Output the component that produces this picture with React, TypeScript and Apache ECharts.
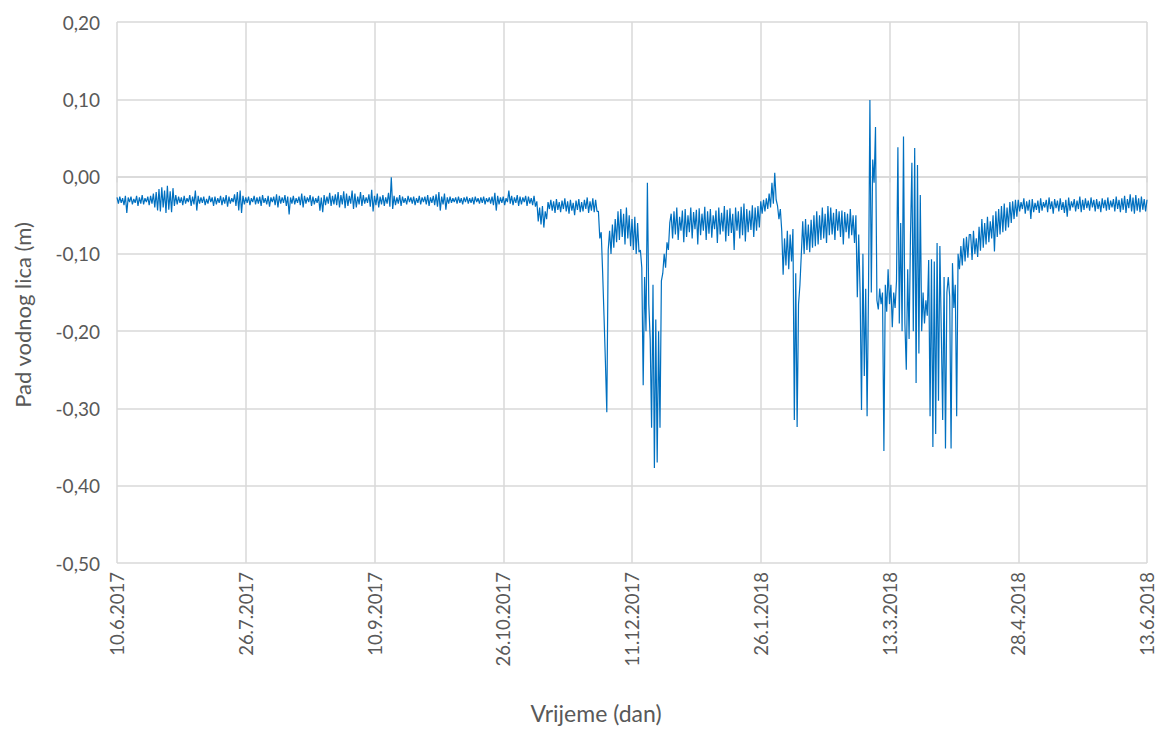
import React, { useEffect, useRef } from "react";
import * as echarts from "echarts";

// Water-level drop readings (mm), two readings per day (step 0.5 day), day 0 = 10.6.2017
const segA_Jun_Jul = [
  -27, -35, -26, -34, -28, -37, -25, -47, -27, -33,
  -26, -36, -29, -34, -25, -38, -27, -35, -24, -36,
  -28, -33, -26, -37, -25, -35, -22, -40, -20, -44,
  -16, -45, -14, -40, -18, -47, -12, -43, -19, -46,
  -15, -38, -24, -36, -26, -34, -27, -37, -25, -35,
  -28, -33, -24, -38, -26, -36, -18, -44, -25, -35,
  -27, -34, -26, -37, -29, -35, -25, -33, -27, -38,
  -26, -36, -28, -34, -25, -37, -27, -35, -24, -39,
  -26, -35, -28, -33, -23, -38, -20, -44, -18, -47,
  -25, -36, -27, -34, -26, -37, -28, -33, -25, -36,
];
const segB_Jul_Sep = [
  -27, -35, -26, -38, -24, -34, -28, -36, -25, -39,
  -27, -33, -26, -37, -23, -40, -25, -35, -27, -34,
  -24, -38, -26, -49, -27, -35, -25, -36, -28, -34,
  -26, -37, -22, -40, -25, -35, -27, -33, -24, -38,
  -26, -36, -28, -34, -25, -44, -27, -46, -24, -37,
  -26, -35, -21, -38, -25, -36, -23, -37, -20, -40,
  -24, -36, -19, -41, -22, -38, -25, -35, -18, -42,
  -22, -40, -26, -36, -20, -38, -24, -35, -27, -34,
  -23, -39, -17, -45, -25, -37, -22, -40, -26, -36,
  -24, -38, -27, -35, -21, -39, -1, -42, -25, -37,
];
const segC_Sep_Nov = [
  -27, -35, -24, -38, -26, -34, -28, -36, -25, -33,
  -27, -35, -26, -37, -28, -34, -25, -36, -27, -33,
  -26, -36, -24, -38, -27, -34, -25, -37, -23, -39,
  -20, -44, -26, -36, -22, -43, -27, -35, -26, -34,
  -28, -33, -27, -35, -26, -34, -28, -36, -27, -33,
  -26, -35, -28, -34, -27, -36, -26, -33, -28, -35,
  -27, -34, -26, -36, -28, -33, -27, -35, -26, -37,
  -21, -44, -25, -36, -27, -34, -26, -37, -28, -33,
  -18, -35, -25, -37, -27, -34, -24, -38, -26, -36,
  -27, -33, -25, -38, -26, -35, -28, -37, -25, -39,
];
const segD_Nov = [
  -32, -58, -40, -62, -38, -66, -45, -55, -33, -42,
  -30, -44, -32, -47, -29, -43, -33, -46, -31, -42,
  -28, -45, -32, -48, -30, -44, -34, -50, -31, -43,
  -29, -46, -33, -45, -30, -42, -27, -47, -32, -44,
  -28, -46, -30, -45,
];
const segE_Nov_Dec = [
  -45, -80, -72, -123, -180, -240, -305, -95, -70, -100,
  -62, -92, -55, -85, -45, -82, -42, -78, -48, -88,
  -40, -80, -50, -90, -55, -95, -52, -100, -60, -98,
  -95, -118, -270, -130, -200, -8, -165, -210, -325, -140,
  -377, -185, -370, -200, -325, -135, -125, -100, -118, -85,
  -95, -60,
];
const segF_Dec_Jan = [
  -48, -80, -45, -75, -40, -82, -52, -70, -44, -85,
  -42, -78, -50, -72, -40, -80, -46, -68, -43, -88,
  -41, -76, -48, -70, -39, -82, -45, -74, -42, -79,
  -50, -68, -44, -86, -40, -75, -47, -71, -38, -84,
  -43, -77, -41, -73, -48, -95, -40, -70, -45, -80,
  -39, -76, -35, -84, -42, -72, -44, -69, -37, -78,
  -40, -70, -38, -66,
];
const segG_Jan_Feb = [
  -32, -48, -30, -45, -28, -42, -22, -40, -8, -35,
  5, -30, -38, -55, -42, -70, -127, -80, -115, -70,
  -120, -75, -110, -68, -315, -125, -324, -165, -140, -100,
];
const segH_Feb = [
  -58, -100, -55, -95, -62, -98, -56, -92, -50, -90,
  -45, -88, -50, -82, -40, -80, -48, -86, -38, -76,
  -40, -75, -47, -82, -42, -70, -45, -78, -44, -88,
  -46, -72, -48, -80, -42, -76, -50, -86,
];
const segI_Mar_Apr = [
  -50, -156, -75, -150, -302, -100, -258, -145, -310, -148,
  99, -150, 22, -8, 64, -160, -172, -145, -165, -150,
  -355, -140, -175, -120, -165, -140, -195, -150, -170, -135,
  38, -190, -60, -200, 52, -190, -250, -120, -210, -76,
  18, -200, 37, -267, 15, -229, -24, -200, -150, -190,
  -160, -180, -108, -310, -107, -350, -110, -333, -86, -290,
  -90, -200, -315, -130, -352, -150, -130, -155, -352, -112,
  -170, -140, -310, -100, -120, -90, -115, -80, -110, -78,
  -105, -75,
];
const segJ_Apr = [
  -75, -108, -70, -100, -80, -104, -65, -96, -55, -92,
  -60, -88, -52, -85, -58, -80, -50, -97, -45, -78,
  -42, -75, -38, -72, -35, -70, -40, -66, -33, -60,
  -32, -55, -30, -52,
];
const segK_Apr_Jun = [
  -30, -45, -33, -42, -28, -48, -32, -44, -30, -55,
  -29, -46, -34, -43, -31, -47, -28, -44, -33, -40,
  -30, -46, -27, -42, -32, -48, -29, -41, -31, -45,
  -28, -43, -33, -47, -30, -52, -27, -44, -32, -40,
  -29, -45, -31, -42, -26, -46, -30, -43, -28, -41,
  -31, -44, -27, -40, -30, -45, -29, -42, -32, -46,
  -28, -41, -30, -44, -27, -43, -31, -40, -29, -45,
  -26, -42, -30, -46, -28, -43, -25, -47, -29, -41,
  -23, -45, -27, -48, -24, -44, -28, -46, -26, -43,
  -29, -45, -30,
];

const segmentStartDays = [0, 50, 100, 150, 172, 198, 230, 245, 264, 305, 322];
const segments = [
  segA_Jun_Jul, segB_Jul_Sep, segC_Sep_Nov, segD_Nov, segE_Nov_Dec,
  segF_Dec_Jan, segG_Jan_Feb, segH_Feb, segI_Mar_Apr, segJ_Apr, segK_Apr_Jun,
];

const X_MIN_DAY = 0;
const X_MAX_DAY = 368;
const X_TICK_DAYS = 46;
const Y_MIN = -0.5;
const Y_MAX = 0.2;
const Y_STEP = 0.1;

const xTitle = "Vrijeme (dan)";
const yTitle = "Pad vodnog lica (m)";

function dayLabel(day: number): string {
  const dt = new Date(Date.UTC(2017, 5, 10) + Math.round(day) * 86400000);
  return `${dt.getUTCDate()}.${dt.getUTCMonth() + 1}.${dt.getUTCFullYear()}`;
}

function yLabel(v: number): string {
  const r = Math.round(v * 100) / 100;
  if (Math.abs(r) < 1e-9) return "0,00";
  return r.toFixed(2).replace(".", ",");
}

export default function App() {
  const ref = useRef<HTMLDivElement>(null);
  useEffect(() => {
    document.body.style.margin = "0";
    if (!ref.current) return;
    const chart = echarts.init(ref.current, undefined, { renderer: "svg" });
    const data: [number, number][] = [];
    segments.forEach((seg, si) => {
      seg.forEach((mm, i) => {
        data.push([segmentStartDays[si] + i * 0.5, mm / 1000]);
      });
    });
    const font = "Lato, 'Open Sans', sans-serif";
    chart.setOption({
      animation: false,
      backgroundColor: "#ffffff",
      grid: { left: 117, top: 22, width: 1030, height: 541, containLabel: false },
      xAxis: {
        type: "value",
        min: X_MIN_DAY,
        max: X_MAX_DAY,
        interval: X_TICK_DAYS,
        axisLine: { show: true, lineStyle: { color: "#d9d9d9", width: 1.5 } },
        axisTick: { show: true, length: 6, lineStyle: { color: "#d9d9d9", width: 1.5 } },
        splitLine: { show: true, lineStyle: { color: "#d9d9d9", width: 1.5 } },
        axisLabel: {
          rotate: 90,
          margin: 9,
          color: "#595959",
          fontSize: 18.5,
          fontFamily: font,
          formatter: (v: number) => dayLabel(v),
        },
      },
      yAxis: {
        type: "value",
        min: Y_MIN,
        max: Y_MAX,
        interval: Y_STEP,
        axisLine: { show: false },
        axisTick: { show: false },
        splitLine: { show: true, lineStyle: { color: "#d9d9d9", width: 1.5 } },
        axisLabel: {
          margin: 17,
          color: "#595959",
          fontSize: 19,
          fontFamily: font,
          formatter: (v: number) => yLabel(v),
        },
      },
      graphic: [
        {
          type: "text",
          x: 596,
          y: 713,
          style: {
            text: xTitle,
            fill: "#595959",
            fontSize: 23,
            fontFamily: font,
            textAlign: "center",
            textVerticalAlign: "middle",
          },
        },
        {
          type: "text",
          x: 22,
          y: 315,
          rotation: Math.PI / 2,
          style: {
            text: yTitle,
            fill: "#595959",
            fontSize: 22,
            fontFamily: font,
            textAlign: "center",
            textVerticalAlign: "middle",
          },
        },
      ],
      series: [
        {
          type: "line",
          data,
          showSymbol: false,
          symbol: "none",
          lineStyle: { color: "#0070c0", width: 1.2 },
        },
      ],
    });
    return () => chart.dispose();
  }, []);
  return <div ref={ref} style={{ width: 1159, height: 729 }} />;
}
